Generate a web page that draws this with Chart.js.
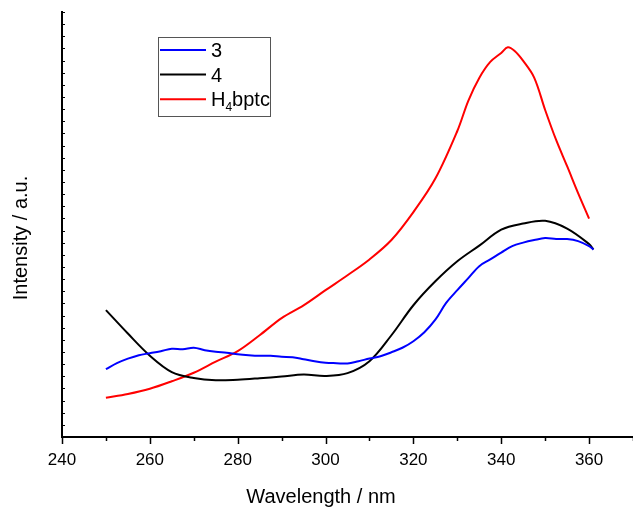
<!DOCTYPE html>
<html>
<head>
<meta charset="utf-8">
<script src="https://cdn.jsdelivr.net/npm/chart.js@4"></script>
<style>html,body{margin:0;padding:0;background:#fff}</style>
</head>
<body>
<canvas id="c" width="633" height="511"></canvas>
<script>
// values (intensity in arbitrary units, one unit = one y tick)
const wl3 = [250, 252.5, 255, 257.5, 260, 262.5, 265, 267.5, 270, 272.5, 275, 277.5, 280, 282.5, 285, 287.5,
  290, 292.5, 295, 297.5, 300, 302.5, 305, 307.5, 310, 312.5, 315, 317.5, 320, 322.5, 325, 327.5, 330, 332.5,
  335, 337.5, 340, 342.5, 345, 347.5, 350, 352.5, 355, 357.5, 360, 361];
const int3 = [5.58, 6.08, 6.45, 6.74, 6.90, 7.07, 7.27, 7.23, 7.35, 7.15, 7.02, 6.94, 6.82, 6.74, 6.69, 6.69,
  6.61, 6.57, 6.41, 6.24, 6.12, 6.08, 6.05, 6.24, 6.46, 6.65, 6.98, 7.35, 7.89, 8.63, 9.66, 11.06, 12.09, 13.08,
  14.07, 14.62, 15.19, 15.72, 16.01, 16.22, 16.38, 16.30, 16.30, 16.13, 15.72, 15.43];

const wl4 = [250, 255, 260, 265, 270, 275, 280, 285, 290, 295, 300, 305, 310, 315, 320, 325, 330, 335,
  340, 345, 350, 355, 360, 361];
const int4 = [10.45, 8.52, 6.70, 5.35, 4.86, 4.67, 4.72, 4.84, 4.98, 5.14, 5.03, 5.26, 6.24, 8.38, 10.85,
  12.82, 14.47, 15.76, 17.08, 17.58, 17.80, 17.16, 15.89, 15.45];

const wlH = [250, 255, 260, 265, 270, 275, 280, 285, 290, 295, 300, 305, 310, 315, 320, 325, 330, 332.5,
  335, 337.5, 340, 341.5, 343, 345, 347.5, 350, 352.5, 355, 357.5, 360];
const intH = [3.23, 3.54, 3.97, 4.59, 5.29, 6.20, 7.07, 8.38, 9.79, 10.84, 12.09, 13.32, 14.62, 16.22, 18.52,
  21.28, 25.20, 27.69, 29.57, 30.89, 31.63, 32.09, 31.80, 30.97, 29.60, 26.93, 24.46, 22.30, 20.09, 17.99];

const seriesNames = ['3', '4', 'H4bptc'];
const xTicks = [240, 260, 280, 300, 320, 340, 360];

const FONT = "'Liberation Sans', Arial, sans-serif";

const pts = (xs, ys) => xs.map((x, i) => ({ x: x, y: ys[i] }));

const axisDecor = {
  id: 'axisDecor',
  afterDraw(chart) {
    const ctx = chart.ctx;
    const xs = chart.scales.x, ys = chart.scales.y;
    const area = chart.chartArea;
    ctx.save();
    ctx.strokeStyle = '#000';
    ctx.lineWidth = 1.5;
    // x ticks, outward, long at labelled values
    for (let v = 240; v <= 370; v += 10) {
      const px = Math.round(xs.getPixelForValue(v)) + 0.5;
      const len = xTicks.includes(v) ? 7 : 4;
      ctx.beginPath();
      ctx.moveTo(px, area.bottom);
      ctx.lineTo(px, area.bottom + len);
      ctx.stroke();
    }
    // y ticks, small and inward
    ctx.lineWidth = 1;
    for (let v = 0; v <= 35; v++) {
      const py = Math.round(ys.getPixelForValue(v)) + 0.5;
      ctx.beginPath();
      ctx.moveTo(area.left, py);
      ctx.lineTo(area.left + 3, py);
      ctx.stroke();
    }

    // axis titles
    ctx.fillStyle = '#000';
    ctx.font = '20px ' + FONT;
    ctx.textAlign = 'center';
    ctx.textBaseline = 'alphabetic';
    ctx.fillText('Wavelength / nm', 321, 503);
    ctx.save();
    ctx.translate(27, 238);
    ctx.rotate(-Math.PI / 2);
    ctx.fillText('Intensity / a.u.', 0, 0);
    ctx.restore();

    // legend
    ctx.strokeStyle = '#555';
    ctx.lineWidth = 1;
    ctx.strokeRect(158.5, 37.5, 112, 79);
    const cols = chart.data.datasets.map(d => d.borderColor);
    ctx.textAlign = 'left';
    for (let i = 0; i < 3; i++) {
      const y = 50 + i * 24.6;
      ctx.strokeStyle = cols[i];
      ctx.lineWidth = 2;
      ctx.beginPath();
      ctx.moveTo(160, y);
      ctx.lineTo(206, y);
      ctx.stroke();
      ctx.font = '20px ' + FONT;
      const base = y + 7;
      if (i < 2) {
        ctx.fillText(seriesNames[i], 211, base);
      } else {
        ctx.fillText('H', 211, base);
        let x = 211 + ctx.measureText('H').width;
        ctx.font = '12px ' + FONT;
        ctx.fillText('4', x, base + 5);
        x += ctx.measureText('4').width;
        ctx.font = '20px ' + FONT;
        ctx.fillText('bptc', x, base);
      }
    }
    ctx.restore();
  }
};

new Chart(document.getElementById('c'), {
  type: 'line',
  data: {
    datasets: [
      { label: seriesNames[0], data: pts(wl3, int3), borderColor: '#0000ff' },
      { label: seriesNames[1], data: pts(wl4, int4), borderColor: '#000000' },
      { label: seriesNames[2], data: pts(wlH, intH), borderColor: '#ff0000' }
    ]
  },
  options: {
    responsive: false,
    animation: false,
    layout: { padding: { top: 12, right: 0, left: 0, bottom: 0 } },
    elements: {
      point: { radius: 0 },
      line: { borderWidth: 2, tension: 0.35 }
    },
    plugins: { legend: { display: false }, tooltip: { enabled: false } },
    scales: {
      x: {
        type: 'linear',
        min: 240,
        max: 370,
        grid: { display: false },
        border: { display: true, color: '#000', width: 2 },
        ticks: {
          stepSize: 10,
          padding: 5,
          maxRotation: 0,
          color: '#000',
          font: { family: FONT, size: 17 },
          callback: v => (xTicks.includes(v) ? String(v) : '')
        },
        afterFit: s => { s.height = 74; s.paddingLeft = 0; s.paddingRight = 0; }
      },
      y: {
        min: 0,
        max: 35,
        grid: { display: false },
        border: { display: true, color: '#000', width: 2 },
        ticks: { display: false, stepSize: 1 },
        afterFit: s => { s.width = 62; }
      }
    }
  },
  plugins: [axisDecor]
});
</script>
</body>
</html>
